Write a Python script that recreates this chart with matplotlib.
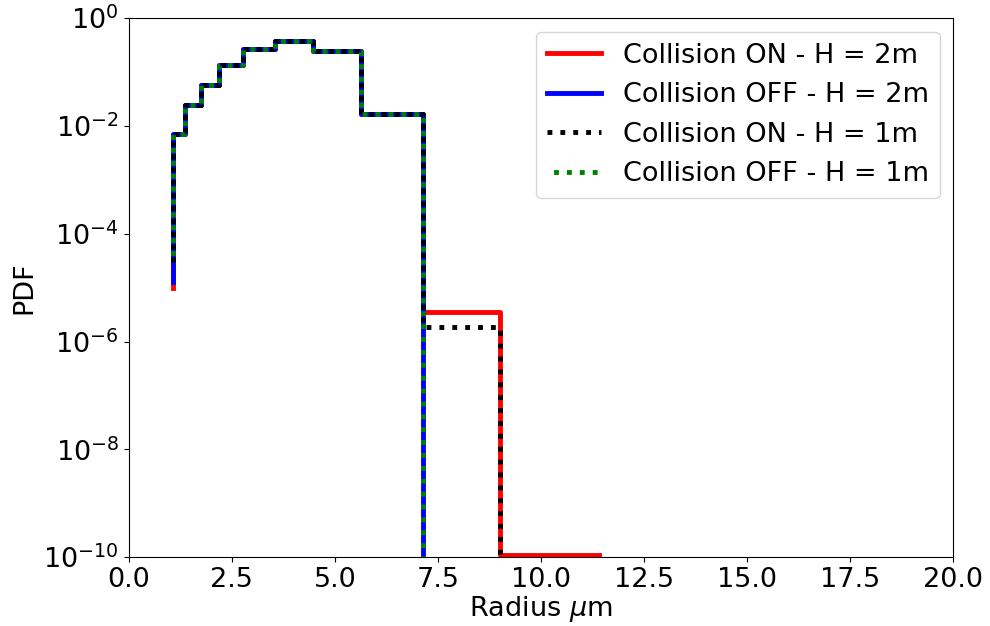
import numpy as np
from matplotlib import pyplot as plt

# bin edges (radius, micrometres) and PDF values
radius = [1.075, 1.36, 1.75, 2.19, 2.78, 3.54, 4.47, 5.64, 7.14, 9.0, 11.4]
common = [7.2e-3, 2.5e-2, 5.7e-2, 0.134, 0.266, 0.374, 0.244, 0.017]

pdf_on_2m = [1.0e-5] + common + [3.5e-6, 1.1e-10]
pdf_off_2m = [1.3e-5] + common + [1e-20, 1e-20]
pdf_on_1m = [3.0e-5] + common + [1.9e-6, 1e-20]
pdf_off_1m = [3.0e-5] + common + [1e-20, 1e-20]

plt.rcParams['font.size'] = 19.5

fig = plt.figure(figsize=(9.9, 6.26), dpi=100)
ax = fig.add_axes([0.130, 0.110, 0.833, 0.861])

ax.plot(radius, pdf_on_2m, drawstyle='steps-pre', color='red', lw=3.5,
        label='Collision ON - H = 2m')
ax.plot(radius, pdf_off_2m, drawstyle='steps-pre', color='blue', lw=3.5,
        label='Collision OFF - H = 2m')
ax.plot(radius, pdf_on_1m, drawstyle='steps-pre', color='black', lw=3.5,
        ls=(0, (1, 1.65)), label='Collision ON - H = 1m')
ax.plot(radius, pdf_off_1m, drawstyle='steps-pre', color='green', lw=3.5,
        ls=(1.3, (1, 1.65)), label='Collision OFF - H = 1m')

ax.set_yscale('log')
ax.set_ylim(1e-10, 1)
ax.set_xlim(0, 20)
ax.set_xticks(np.arange(0, 20.1, 2.5))
ax.set_yticks([1e-10, 1e-8, 1e-6, 1e-4, 1e-2, 1])
ax.minorticks_off()
ax.set_xlabel(r'Radius $\mu$m', labelpad=1)
ax.set_ylabel('PDF')
ax.legend(loc='upper right')

fig.savefig('out.png', dpi=100)
